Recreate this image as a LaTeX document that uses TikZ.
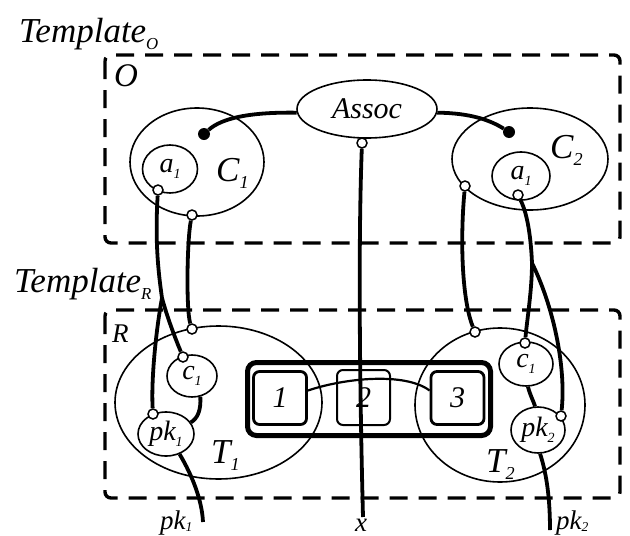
\documentclass[tikz,border=0pt]{standalone}
\usepackage{fontspec}
\setmainfont{Liberation Serif}
\usepackage{graphicx}
\usetikzlibrary{shapes.geometric}
\pgfdeclarelayer{background}
\pgfsetlayers{background,main}
\newcommand\lowsub[2][0.5]{\raisebox{-0.2em}{\scalebox{#1}{#2}}}
\newcommand\botsub[1]{\raisebox{-0.1em}{\scalebox{0.5}{#1}}}
\begin{document}
\begin{tikzpicture}[x=1pt,y=-1pt,
  every node/.style={font=\fontsize{30}{30}\selectfont\itshape, inner sep=0pt},
  big/.style={font=\fontsize{35}{35}\selectfont\itshape},
  small/.style={font=\fontsize{28}{28}\selectfont\itshape},
  tpl/.style={font=\fontsize{35}{35}\selectfont\itshape},
  bottom/.style={font=\fontsize{27}{27}\selectfont\itshape},
  dashbox/.style={draw, line width=3.4pt, dash pattern=on 18pt off 11pt, rounded corners=6pt},
  ell/.style={draw, ellipse, line width=1.6pt},
  conn/.style={line width=3.8pt},
  linkline/.style={line width=2.2pt},
  port/.style={circle, draw, fill=white, line width=1.5pt, minimum size=10pt},
  blackdot/.style={circle, fill=black, minimum size=12pt},
  outerbox/.style={draw, line width=5pt, rounded corners=9pt},
  cellbox/.style={draw, rounded corners=6pt, line width=2.8pt},
  thincell/.style={draw, rounded corners=6pt, line width=2pt}
]
\useasboundingbox (0,0) rectangle (630,536);

% templates
\node[tpl, anchor=base west] (tplO) at (19,42) {Template\lowsub[0.48]{O}};
\node[tpl, anchor=base west] (tplR) at (14,292) {Template\lowsub[0.48]{R}};
\draw[dashbox] (105,55) rectangle (620,243);
\draw[dashbox] (105,310) rectangle (620,498);
\node[font=\fontsize{33}{33}\selectfont\itshape, anchor=base west] (Olab) at (114,86) {O};
\node[anchor=base west, font=\fontsize{27}{27}\selectfont\itshape] (Rlab) at (112,342) {R};

% O part
\node[ell, minimum width=140pt, minimum height=58pt] (assoc) at (367,109) {Assoc};
\node[ell, minimum width=134pt, minimum height=108pt] (C1) at (197,162) {};
\node[ell, small, minimum width=55pt, minimum height=48pt] (a1L) at (170,169) {a\lowsub{1}};
\node[big, anchor=base west] (C1lab) at (216,181) {C\lowsub[0.52]{1}};
\node[ell, minimum width=156pt, minimum height=102pt] (C2) at (530,159) {};
\node[ell, small, minimum width=58pt, minimum height=48pt] (a1R) at (521,176) {a\lowsub{1}};
\node[big, anchor=base west] (C2lab) at (550,158) {C\lowsub[0.52]{2}};

% R part
\node[ell, minimum width=207pt, minimum height=153pt] (T1) at (218.5,402.5) {};
\node[ell, small, minimum width=50pt, minimum height=42pt] (c1L) at (192,376) {c\lowsub{1}};
\node[ell, small, minimum width=56pt, minimum height=44pt] (pk1) at (166,434) {pk\lowsub{1}};
\node[big, anchor=base west] (T1lab) at (211,463) {T\lowsub[0.52]{1}};
\node[ell, minimum width=170pt, minimum height=154pt] (T2) at (500,405) {};
\node[ell, small, minimum width=54pt, minimum height=44pt] (c1R) at (526,364) {c\lowsub{1}};
\node[ell, small, minimum width=54pt, minimum height=46pt] (pk2) at (538,430) {pk\lowsub{2}};
\node[big, anchor=base west] (T2lab) at (486,472) {T\lowsub[0.52]{2}};

% middle block
\node[outerbox, minimum width=243pt, minimum height=73pt] (blk) at (369,399) {};
\node[cellbox, minimum width=53pt, minimum height=53pt] (b1) at (280,398) {1};
\node[thincell, minimum width=53pt, minimum height=55pt] (b2) at (363.5,397.5) {2};
\node[cellbox, minimum width=53pt, minimum height=53pt] (b3) at (457.5,398) {3};

% ports and dots
\node[blackdot] (dot1) at (204,134) {};
\node[blackdot] (dot2) at (509,132) {};
\node[port] (pAssoc) at (362,143) {};
\node[port] (pA1L) at (158,190) {};
\node[port] (pC1) at (192,215) {};
\node[port] (pC2) at (465,186) {};
\node[port] (pA1R) at (518,195) {};
\node[port] (pT1) at (192,329) {};
\node[port] (pc1L) at (183,357) {};
\node[port] (ppk1) at (153,414) {};
\node[port] (pT2) at (475,332) {};
\node[port] (pc1R) at (525,343) {};
\node[port] (ppk2) at (561,416) {};

\coordinate (splitL) at (162,298);
\coordinate (splitR) at (532,263);
\coordinate (endpk1) at (203,522);
\coordinate (endx) at (363,517);
\coordinate (endpk2) at (550,530);

% bottom labels
\node[bottom, anchor=base west] (lpk1) at (160,529) {pk\botsub{1}};
\node[bottom, anchor=base] (lx) at (361,531) {x};
\node[bottom, anchor=base west] (lpk2) at (556,529) {pk\botsub{2}};

\begin{pgfonlayer}{background}
\draw[conn] (assoc.183) .. controls (250,112) and (222,118) .. (dot1);
\draw[conn] (assoc.-3) .. controls (470,113) and (490,120) .. (dot2);
\draw[conn] (pAssoc) .. controls (358,250) and (360,400) .. (endx);
\draw[conn] (pC1) .. controls (187,240) and (186,310) .. (pT1);
\draw[conn] (pA1L) .. controls (155,240) and (158,270) .. (splitL);
\draw[conn] (splitL) .. controls (168,320) and (176,340) .. (pc1L);
\draw[conn] (splitL) .. controls (156,330) and (151,380) .. (ppk1);
\draw[conn] (pC2) .. controls (460,240) and (462,300) .. (pT2);
\draw[conn] (pA1R) .. controls (528,215) and (531,240) .. (splitR);
\draw[conn] (splitR) .. controls (532,290) and (527,320) .. (pc1R);
\draw[conn] (splitR) .. controls (555,310) and (566,370) .. (ppk2);
\draw[conn] (c1L.-68) .. controls (201,410) and (198,418) .. (pk1.25);
\draw[conn] (c1R.-85) .. controls (530,395) and (533,400) .. (pk2.97);
\draw[conn] (pk1.-56) .. controls (192,475) and (202,500) .. (endpk1);
\draw[conn] (pk2.-85) .. controls (547,475) and (550,500) .. (endpk2);
\draw[linkline] (b1.15) .. controls (345,378) and (405,372) .. (b3.165);
\end{pgfonlayer}
\end{tikzpicture}
\end{document}
